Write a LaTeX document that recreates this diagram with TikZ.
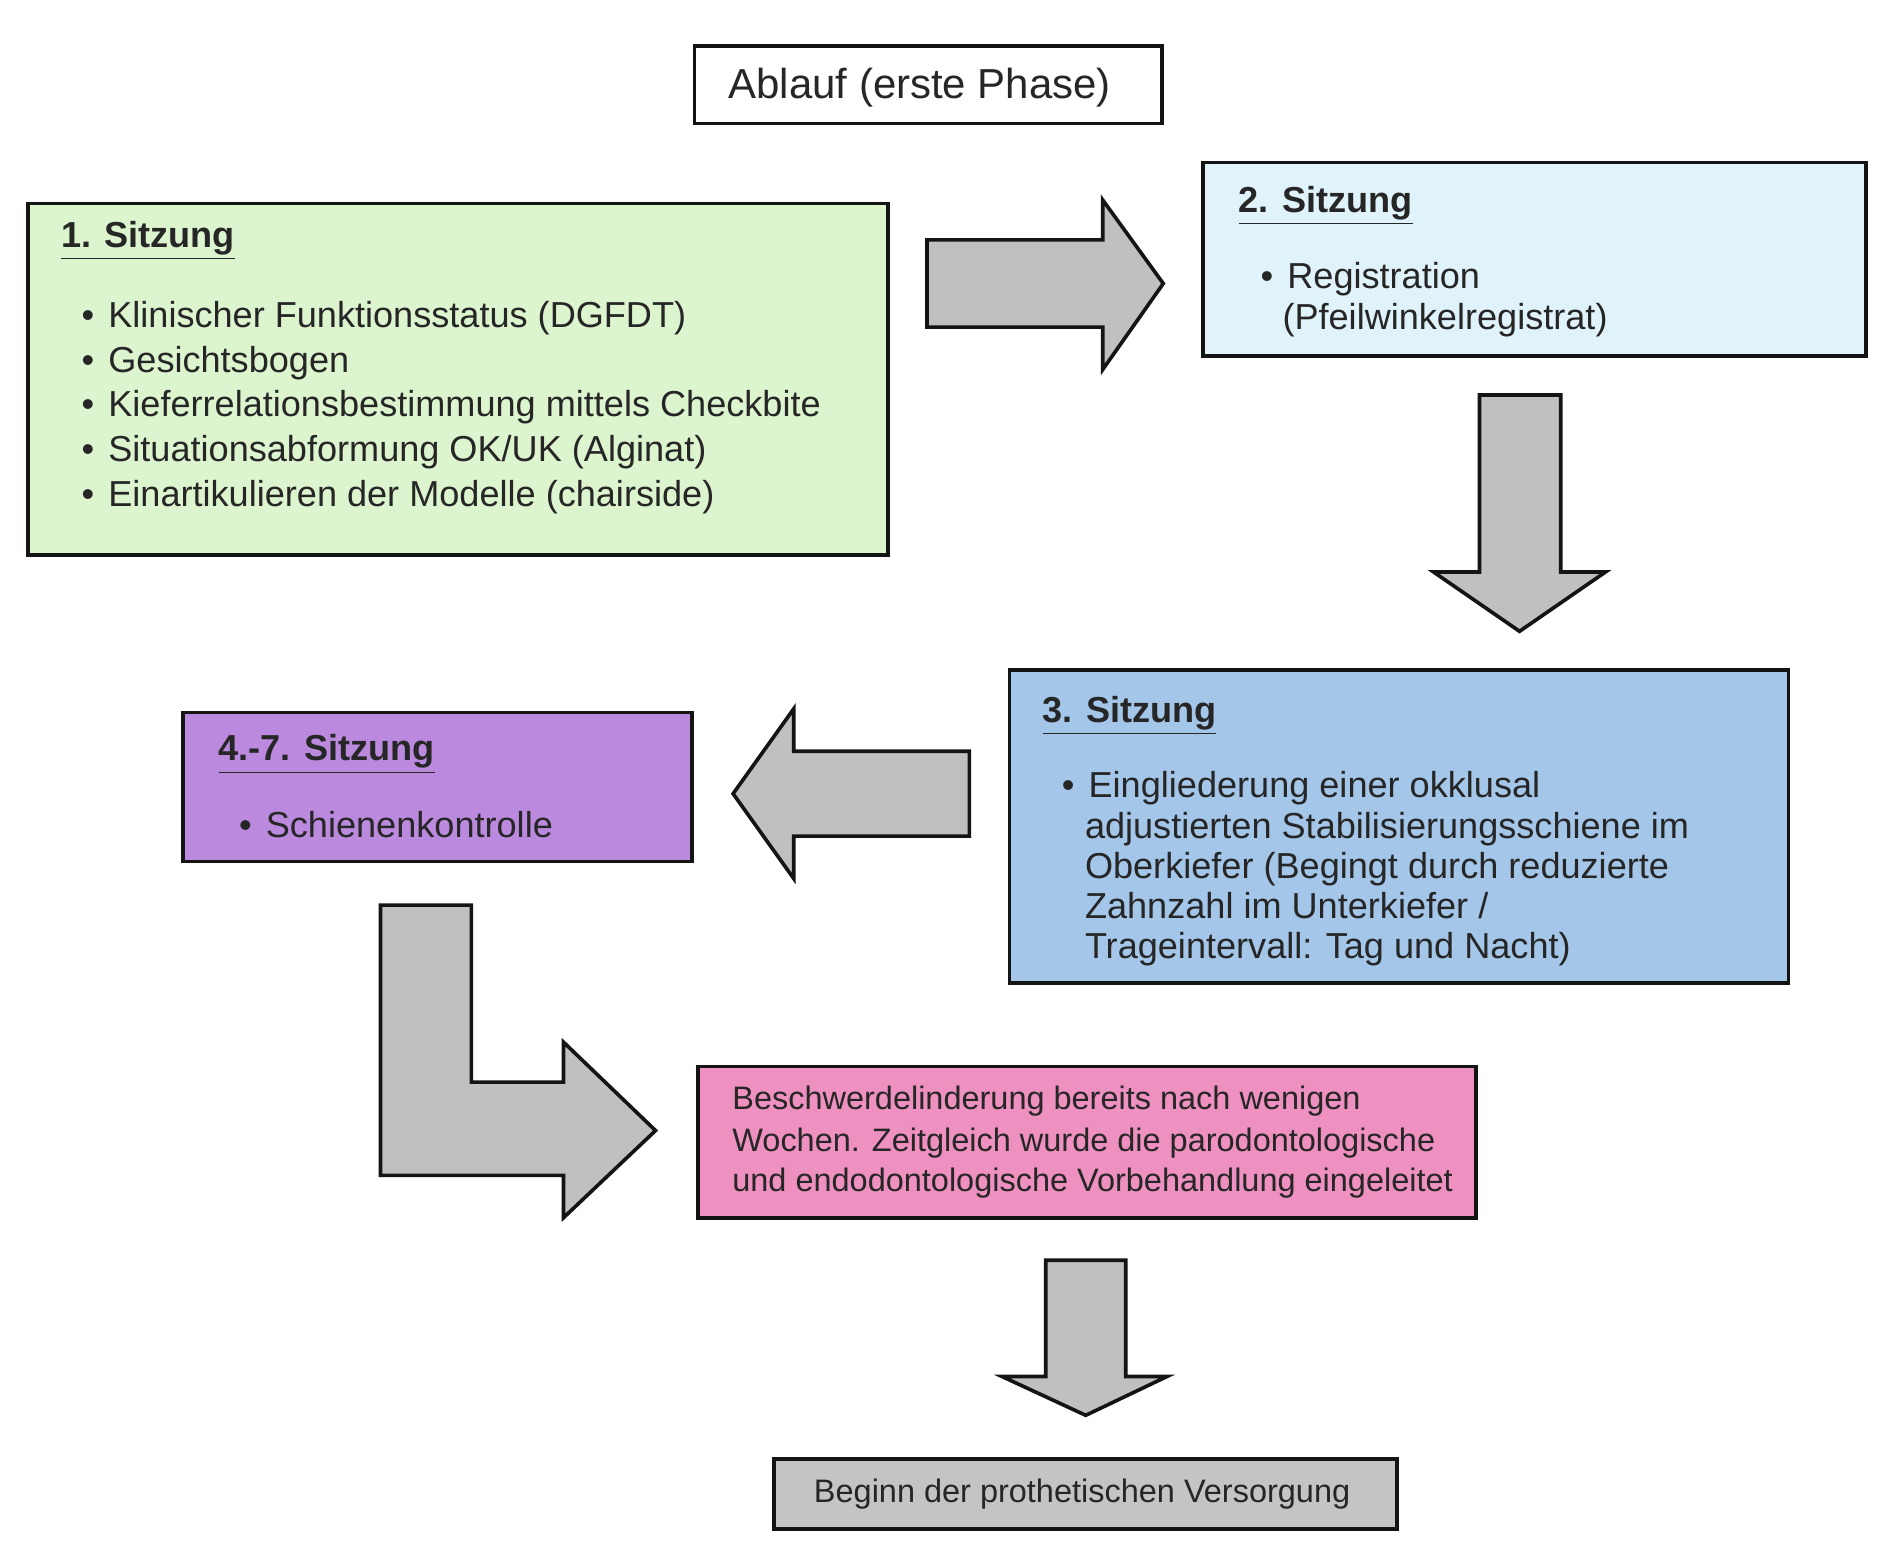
\documentclass[tikz,border=0pt]{standalone}
\usepackage{fontspec}
\setmainfont{Liberation Sans}
\definecolor{txt}{HTML}{262626}
\definecolor{edge}{HTML}{141414}
\definecolor{gA}{HTML}{DDF5CF}
\definecolor{bA}{HTML}{E0F2FA}
\definecolor{bB}{HTML}{A3C6E9}
\definecolor{pA}{HTML}{BB8ADE}
\definecolor{rA}{HTML}{EE90C0}
\definecolor{grA}{HTML}{C4C4C4}
\definecolor{arr}{HTML}{C0C0C0}
\tikzset{
  box/.style={draw=edge, line width=1.5pt, rectangle, inner sep=0pt},
  blockarrow/.style={draw=edge, fill=arr, line width=1.5pt, line join=miter},
  ln/.style={inner sep=0pt, anchor=base west, text=txt, font=\fontsize{14.9pt}{18.5pt}\selectfont},
  lnsmall/.style={inner sep=0pt, anchor=base west, text=txt, font=\fontsize{13.4pt}{16.7pt}\selectfont},
  hd/.style={inner sep=0pt, anchor=base west, text=txt, font=\fontsize{14.9pt}{18.5pt}\selectfont\bfseries},
}
\newcommand{\hdu}[1]{\underline{#1}}
\begin{document}
\begin{tikzpicture}[x=0.5pt,y=-0.5pt]
\useasboundingbox[fill=white] (0,0) rectangle (1568,1294);

% title
\node[box, fill=white, minimum width=193pt, minimum height=32pt] (ttl) at (766,70) {};
\node[inner sep=0pt, text=txt, font=\fontsize{17.3pt}{20pt}\selectfont] (ttltext) at (759,72) {Ablauf (erste Phase)};

% box 1
\node[box, fill=gA, minimum width=355pt, minimum height=145pt] (s1) at (378,313) {};
\node[hd] (s1h) at (50,204) {\hdu{1. Sitzung}};
\node[ln] (s1b1) at (67,270) {\textbullet};
\node[ln] (s1t1) at (89,270) {Klinischer Funktionsstatus (DGFDT)};
\node[ln] (s1b2) at (67,307) {\textbullet};
\node[ln] (s1t2) at (89,307) {Gesichtsbogen};
\node[ln] (s1b3) at (67,344) {\textbullet};
\node[ln] (s1t3) at (89,344) {Kieferrelationsbestimmung mittels Checkbite};
\node[ln] (s1b4) at (67,381) {\textbullet};
\node[ln] (s1t4) at (89,381) {Situationsabformung OK/UK (Alginat)};
\node[ln] (s1b5) at (67,418) {\textbullet};
\node[ln] (s1t5) at (89,418) {Einartikulieren der Modelle (chairside)};

% box 2
\node[box, fill=bA, minimum width=273.5pt, minimum height=80pt] (s2) at (1266.5,214) {};
\node[hd] (s2h) at (1022,175) {\hdu{2. Sitzung}};
\node[ln] (s2b1) at (1040,238) {\textbullet};
\node[ln] (s2t1) at (1062,238) {Registration};
\node[ln] (s2t2) at (1058,272) {(Pfeilwinkelregistrat)};

% box 3
\node[box, fill=bB, minimum width=321.5pt, minimum height=129pt] (s3) at (1154.5,682) {};
\node[hd] (s3h) at (860,596) {\hdu{3. Sitzung}};
\node[ln] (s3b1) at (876,658) {\textbullet};
\node[ln] (s3t1) at (898,658) {Eingliederung einer okklusal};
\node[ln] (s3t2) at (895,692) {adjustierten Stabilisierungsschiene im};
\node[ln] (s3t3) at (895,725) {Oberkiefer (Begingt durch reduzierte};
\node[ln] (s3t4) at (895,758) {Zahnzahl im Unterkiefer /};
\node[ln] (s3t5) at (895,791) {Trageintervall: Tag und Nacht)};

% box 4
\node[box, fill=pA, minimum width=210pt, minimum height=61.5pt] (s4) at (361,649.5) {};
\node[hd] (s4h) at (180,628) {\hdu{4.-7. Sitzung}};
\node[ln] (s4b1) at (197,691) {\textbullet};
\node[ln] (s4t1) at (219,691) {Schienenkontrolle};

% pink box
\node[box, fill=rA, minimum width=321pt, minimum height=62.5pt] (s5) at (897,942.5) {};
\node[lnsmall] (s5t1) at (604,916) {Beschwerdelinderung bereits nach wenigen};
\node[lnsmall] (s5t2) at (604,950) {Wochen. Zeitgleich wurde die parodontologische};
\node[lnsmall] (s5t3) at (604,983) {und endodontologische Vorbehandlung eingeleitet};

% gray box
\node[box, fill=grA, minimum width=257pt, minimum height=29pt] (s6) at (896,1233) {};
\node[inner sep=0pt, text=txt, font=\fontsize{13.4pt}{16pt}\selectfont] (s6t) at (893,1233) {Beginn der prothetischen Versorgung};

% block arrows
\draw[blockarrow] (765,198) -- (910,198) -- (910,165) -- (960,234) -- (910,305) -- (910,270) -- (765,270) -- cycle;
\draw[blockarrow] (1221,326) -- (1288,326) -- (1288,472) -- (1325,472) -- (1254,521) -- (1183,472) -- (1221,472) -- cycle;
\draw[blockarrow] (800,620) -- (655,620) -- (655,585) -- (605,655) -- (655,725) -- (655,690) -- (800,690) -- cycle;
\draw[blockarrow] (314,747) -- (389,747) -- (389,893) -- (465,893) -- (465,860) -- (541,933) -- (465,1005) -- (465,970) -- (314,970) -- cycle;
\draw[blockarrow] (863,1040) -- (929,1040) -- (929,1136) -- (963,1136) -- (896,1168) -- (827,1136) -- (863,1136) -- cycle;
\end{tikzpicture}
\end{document}
